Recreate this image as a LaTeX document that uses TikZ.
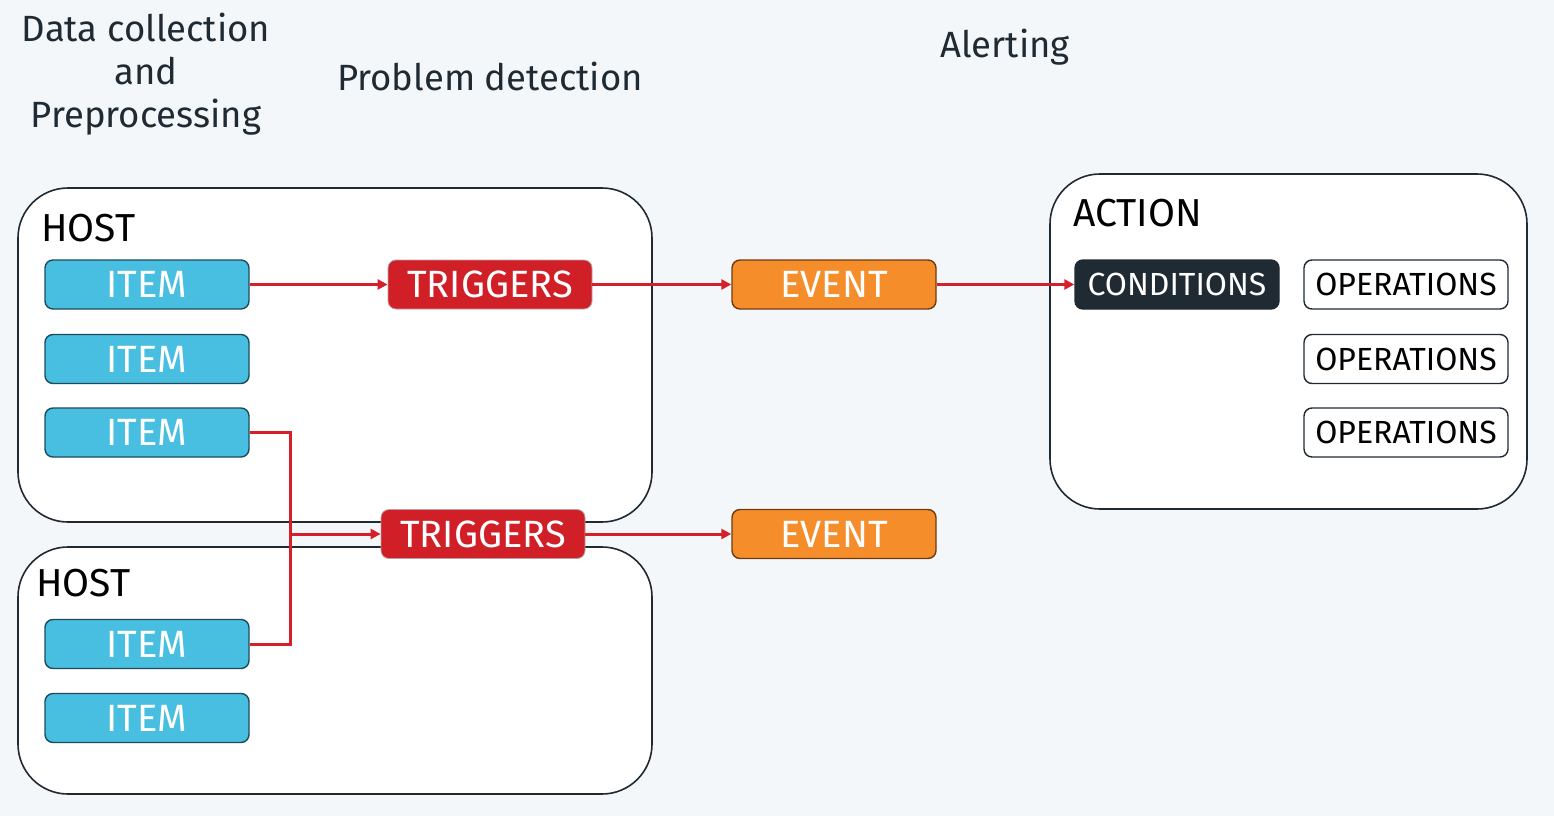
\documentclass[tikz,border=0pt]{standalone}
\usepackage{fontspec}
\setmainfont{Fira Sans}
\usetikzlibrary{arrows.meta}
\definecolor{bg}{HTML}{F4F7FA}
\definecolor{ink}{HTML}{1F2A33}
\definecolor{itemfill}{HTML}{48BFE0}
\definecolor{itemdraw}{HTML}{1D4B5E}
\definecolor{trigfill}{HTML}{D01F27}
\definecolor{trigdraw}{HTML}{B8A0A2}
\definecolor{evfill}{HTML}{F68D2B}
\definecolor{evdraw}{HTML}{6E3B12}
\definecolor{link}{HTML}{D5202A}
\begin{document}
\begin{tikzpicture}[x=1pt,y=-1pt,
  box/.style={rounded corners=8pt, minimum width=204pt, minimum height=49pt,
    line width=1.4pt, font=\fontsize{38}{38}\selectfont, inner sep=0pt},
  smalltext/.style={font=\fontsize{32}{32}\selectfont},
  itembox/.style={box, fill=itemfill, draw=itemdraw, text=white},
  trigbox/.style={box, fill=trigfill, draw=trigdraw, line width=0.8pt, text=white},
  evbox/.style={box, fill=evfill, draw=evdraw, text=white},
  condbox/.style={box, smalltext, fill=ink, draw=ink, text=white},
  opbox/.style={box, smalltext, fill=white, draw=ink, text=black},
  container/.style={rounded corners=50pt, fill=white, draw=ink, line width=1.6pt, inner sep=0pt},
  label/.style={anchor=west, font=\fontsize{39}{39}\selectfont, text=black, inner sep=0pt},
  heading/.style={align=center, font=\fontsize{36.5}{43}\selectfont, text=ink, inner sep=0pt},
  wire/.style={draw=link, line width=3pt},
  arr/.style={wire, -{Triangle[length=10pt,width=10pt]}}
]
\fill[bg] (0,0) rectangle (1554,816);

% headings
\node[heading] (h1) at (146,74) {Data collection\\and\\Preprocessing};
\node[heading] (h2) at (490,76) {Problem detection};
\node[heading] (h3) at (1005,47) {Alerting};

% containers
\node[container, minimum width=634pt, minimum height=334pt] (host1) at (335,355) {};
\node[container, minimum width=634pt, minimum height=247pt] (host2) at (335,670.5) {};
\node[container, minimum width=477pt, minimum height=335pt] (action) at (1288.5,341.5) {};

\node[label] (hl1) at (41,228) {HOST};
\node[label] (hl2) at (36,583) {HOST};
\node[label] (al) at (1073,213) {ACTION};

% items
\node[itembox] (i1) at (147,284.5) {ITEM};
\node[itembox] (i2) at (147,359) {ITEM};
\node[itembox] (i3) at (147,432.5) {ITEM};
\node[itembox] (i4) at (147,644) {ITEM};
\node[itembox] (i5) at (147,718) {ITEM};

% triggers
\node[trigbox] (t1) at (490,284.5) {TRIGGERS};
\node[trigbox] (t2) at (483,534) {TRIGGERS};

% events
\node[evbox] (e1) at (834,284.5) {EVENT};
\node[evbox] (e2) at (834,534) {EVENT};

% action contents
\node[condbox] (cond) at (1177,284.5) {CONDITIONS};
\node[opbox] (o1) at (1406,284.5) {OPERATIONS};
\node[opbox] (o2) at (1406,359) {OPERATIONS};
\node[opbox] (o3) at (1406,432.5) {OPERATIONS};

% connectors
\coordinate (j) at (290,534);
\draw[arr] (i1) -- (t1);
\draw[arr] (t1) -- (e1);
\draw[arr] (e1) -- (cond);
\draw[wire] (i3.east) -| (j) |- (i4.east);
\draw[arr] (j) -- (t2);
\draw[arr] (t2) -- (e2);
\end{tikzpicture}
\end{document}
